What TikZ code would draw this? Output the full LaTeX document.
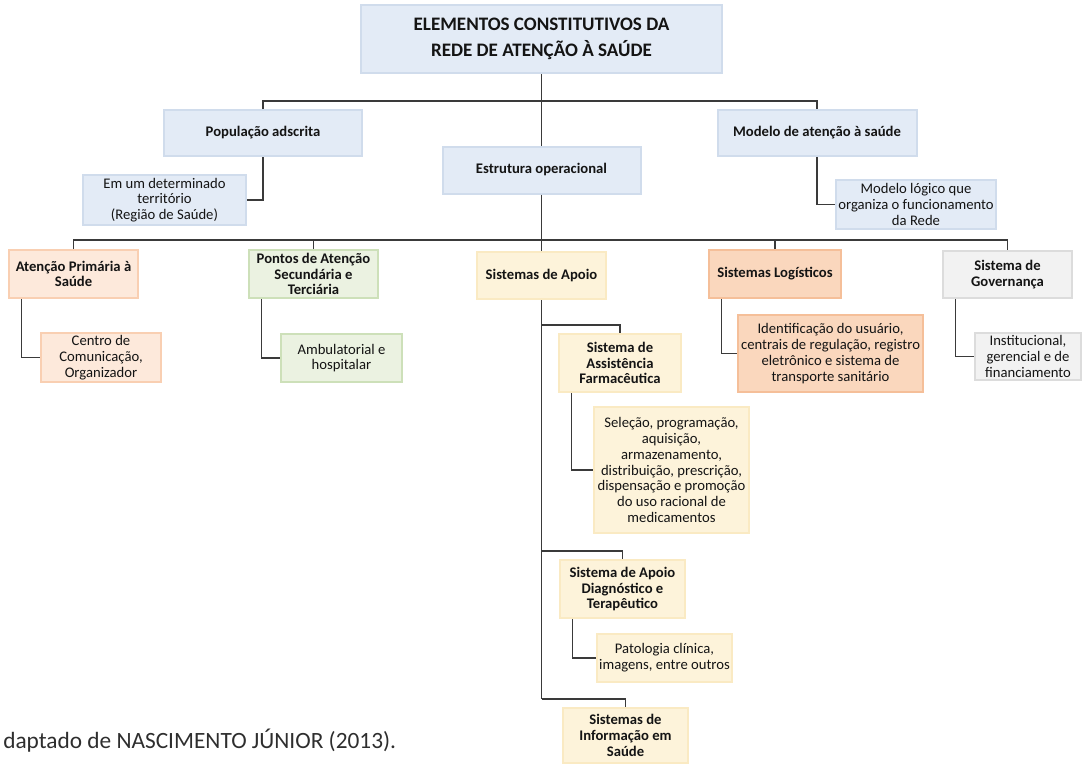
\documentclass[tikz,border=0pt]{standalone}
\usepackage{fontspec}
\setmainfont{Carlito}

\definecolor{azulF}{HTML}{E3EBF6}
\definecolor{azulB}{HTML}{D0DCEC}
\definecolor{laranjaF}{HTML}{FDE9DB}
\definecolor{laranjaB}{HTML}{F9CFB2}
\definecolor{verdeF}{HTML}{EBF2E1}
\definecolor{verdeB}{HTML}{CDE0B9}
\definecolor{amareloF}{HTML}{FDF3DA}
\definecolor{amareloB}{HTML}{FAEAC3}
\definecolor{salmaoF}{HTML}{FAD7BD}
\definecolor{salmaoB}{HTML}{F5BF99}
\definecolor{cinzaF}{HTML}{F2F2F2}
\definecolor{cinzaB}{HTML}{DCDCDC}
\definecolor{linha}{HTML}{3A3A3A}

\begin{document}
\begin{tikzpicture}[x=0.75pt,y=-0.75pt,
    box/.style={rectangle,line width=1.5pt,align=center,inner sep=2pt,text=black!92,
        font=\fontsize{11}{11.8}\selectfont},
    hd/.style={box,font=\bfseries\fontsize{11}{11.8}\selectfont},
    wh/.style 2 args={minimum width=#1*0.75pt,minimum height=#2*0.75pt},
    azul/.style={fill=azulF,draw=azulB},
    laranja/.style={fill=laranjaF,draw=laranjaB},
    verde/.style={fill=verdeF,draw=verdeB},
    amarelo/.style={fill=amareloF,draw=amareloB},
    salmao/.style={fill=salmaoF,draw=salmaoB},
    cinza/.style={fill=cinzaF,draw=cinzaB},
    liga/.style={draw=linha,line width=0.9pt}]
    \useasboundingbox (0,0) rectangle (1082,764);

    % topo
    \node[hd,azul,wh={361}{68},font=\bfseries\fontsize{14.3}{19.5}\selectfont] (titulo) at (541.5,39)
        {ELEMENTOS CONSTITUTIVOS DA\\REDE DE ATENÇÃO À SAÚDE};
    \node[hd,azul,wh={198}{46}] (pop) at (263,133) {População adscrita};
    \node[hd,azul,wh={199}{46}] (modelo) at (817,133) {Modelo de atenção à saúde};
    \node[hd,azul,wh={198}{47}] (estrutura) at (541.5,170) {Estrutura operacional};
    \node[box,azul,wh={163}{48}] (territorio) at (164.5,200) {Em um determinado\\território\\(Região de Saúde)};
    \node[box,azul,wh={160}{49}] (logico) at (916,204.5) {Modelo lógico que\\organiza o funcionamento\\da Rede};

    % estrutura operacional
    \node[hd,laranja,wh={129}{48}] (aps) at (73.5,274) {Atenção Primária à\\Saúde};
    \node[hd,verde,wh={129}{48}] (pontos) at (313.5,274) {Pontos de Atenção\\Secundária e\\Terciária};
    \node[hd,amarelo,wh={129}{47}] (apoio) at (541.5,275.5) {Sistemas de Apoio};
    \node[hd,salmao,wh={132}{48}] (logist) at (775,274) {Sistemas Logísticos};
    \node[hd,cinza,wh={129}{47}] (gov) at (1007.5,274.5) {Sistema de\\Governança};

    \node[box,laranja,wh={120}{49}] (centro) at (101,357.5) {Centro de\\Comunicação,\\Organizador};
    \node[box,verde,wh={121}{48}] (ambul) at (341.5,358) {Ambulatorial e\\hospitalar};
    \node[box,salmao,wh={179}{77}] (ident) at (830.5,353.5)
        {Identificação do usuário,\\centrais de regulação, registro\\eletrônico e sistema de\\transporte sanitário};
    \node[box,cinza,wh={106}{47}] (instit) at (1028,356.5) {Institucional,\\gerencial e de\\financiamento};

    % sistemas de apoio
    \node[hd,amarelo,wh={122}{58}] (farma) at (620,363) {Sistema de\\Assistência\\Farmacêutica};
    \node[box,amarelo,wh={155}{126}] (selecao) at (671.5,470)
        {Seleção, programação,\\aquisição,\\armazenamento,\\distribuição, prescrição,\\dispensação e promoção\\do uso racional de\\medicamentos};
    \node[hd,amarelo,wh={125}{58}] (diag) at (622.5,589) {Sistema de Apoio\\Diagnóstico e\\Terapêutico};
    \node[box,amarelo,wh={135}{48}] (patol) at (664.5,658) {Patologia clínica,\\imagens, entre outros};
    \node[hd,amarelo,wh={125}{55}] (info) at (625.5,735.5) {Sistemas de\\Informação em\\Saúde};

    \node[anchor=base west,inner sep=0,text=black!82,font=\fontsize{17.5}{20}\selectfont] (fonte) at (3,748)
        {daptado de NASCIMENTO JÚNIOR (2013).};

    % ligacoes
    \coordinate (b1) at (541.5,101);
    \coordinate (b2) at (541.5,240);
    \coordinate (j1) at (541.5,325);
    \coordinate (j2) at (541.5,551);
    \coordinate (j3) at (541.5,699);

    \draw[liga] (titulo) -- (estrutura);
    \draw[liga] (pop.north) |- (b1) -| (modelo.north);
    \draw[liga] (pop.south) |- (territorio.east);
    \draw[liga] (modelo.south) |- (logico.west);

    \draw[liga] (estrutura.south) -- (apoio.north);
    \draw[liga] (aps.north) |- (b2) -| (gov.north);
    \draw[liga] (pontos.north) |- (b2);
    \draw[liga] (logist.north) |- (b2);

    \draw[liga] ([xshift=10pt]aps.south west) |- (centro.west);
    \draw[liga] ([xshift=10pt]pontos.south west) |- (ambul.west);
    \draw[liga] ([xshift=10pt]logist.south west) |- (ident.west);
    \draw[liga] ([xshift=10pt]gov.south west) |- (instit.west);

    \draw[liga] (apoio.south) -- (j3);
    \draw[liga] (j1) -| (farma.north);
    \draw[liga] (j2) -| (diag.north);
    \draw[liga] (j3) -| (info.north);
    \draw[liga] ([xshift=10pt]farma.south west) |- (selecao.west);
    \draw[liga] ([xshift=10pt]diag.south west) |- (patol.west);
\end{tikzpicture}
\end{document}
